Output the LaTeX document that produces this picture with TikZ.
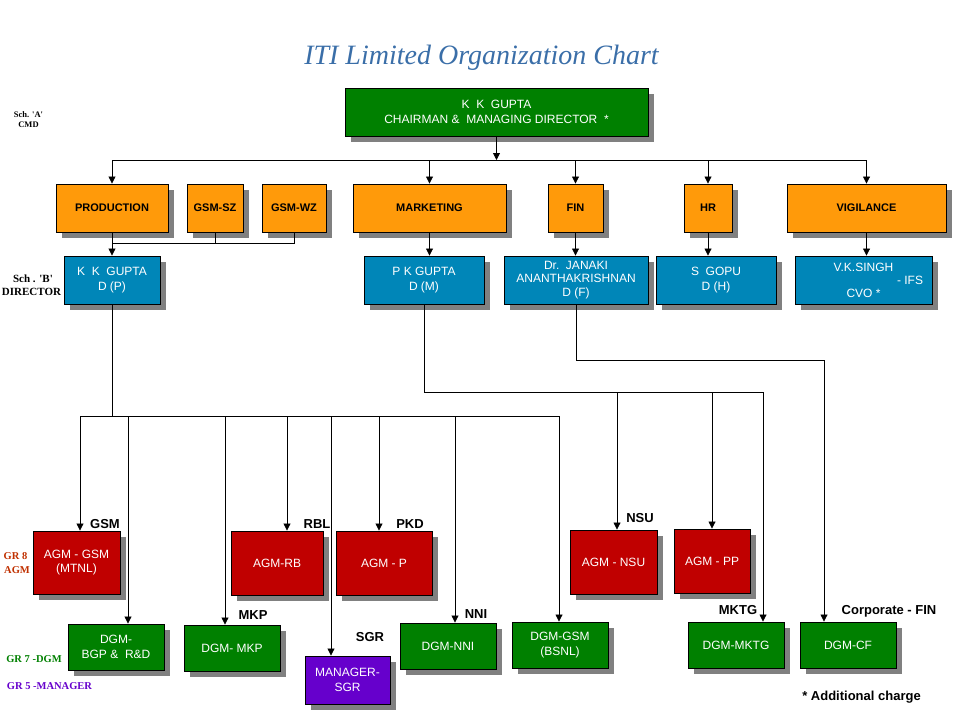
\documentclass[tikz,border=0pt]{standalone}
\usepackage{fontspec}
\setmainfont{Liberation Sans}
\newfontfamily\titlefont{Liberation Serif}
\usetikzlibrary{arrows.meta,shadows}

\definecolor{boxgreen}{HTML}{008000}
\definecolor{boxorange}{HTML}{FF9A0A}
\definecolor{boxblue}{HTML}{0086B8}
\definecolor{boxred}{HTML}{C00000}
\definecolor{boxpurple}{HTML}{6600CC}
\definecolor{titleblue}{HTML}{3A6EA8}
\definecolor{gradered}{HTML}{C03000}

\begin{document}
\begin{tikzpicture}[x=1pt, y=-1pt,
  box/.style = {draw, line width=0.9pt, inner sep=0pt, align=center, text=white, font=\fontsize{12}{14.5}\selectfont, drop shadow={shadow xshift=6pt, shadow yshift=-6pt, fill=gray, opacity=1}},
  grn/.style = {box, fill=boxgreen},
  dept/.style = {box, fill=boxorange, text=black, font=\bfseries\fontsize{11}{13}\selectfont},
  dir/.style = {box, fill=boxblue},
  agm/.style = {box, fill=boxred},
  mgr/.style = {box, fill=boxpurple},
  sz/.style 2 args = {minimum width=#1pt, minimum height=#2pt},
  arr/.style = {line width=0.8pt, -{Triangle[width=7pt,length=7pt]}},
  tag/.style = {anchor=base, font=\bfseries\fontsize{13}{15}\selectfont},
  grade/.style = {anchor=base, font=\titlefont\bfseries\fontsize{10.5}{12}\selectfont}]

\useasboundingbox (0,0) rectangle (960,720);

% Title
\node[anchor=base, text=titleblue, font=\titlefont\itshape\fontsize{28}{30}\selectfont] (title) at (481.5,64) {ITI Limited Organization Chart};

% Top
\node[grn, sz={303}{48}] (cmd) at (496.5,112) {K\ \ K\ \ GUPTA\\CHAIRMAN \&\ \ MANAGING DIRECTOR\ \ *};

% Departments
\node[dept, sz={112}{48}] (prod)  at (112,208)   {PRODUCTION};
\node[dept, sz={56}{48}]  (gsmsz) at (215,208)   {GSM-SZ};
\node[dept, sz={64}{48}]  (gsmwz) at (294,208)   {GSM-WZ};
\node[dept, sz={153}{48}] (mkt)   at (429.5,208) {MARKETING};
\node[dept, sz={55}{48}]  (fin)   at (575.5,208) {FIN};
\node[dept, sz={48}{48}]  (hr)    at (708,208)   {HR};
\node[dept, sz={159}{48}] (vig)   at (866.5,208) {VIGILANCE};

% Directors
\node[dir, sz={96}{48}]  (dp) at (112,280)   {K\ \ K\ \ GUPTA\\D (P)};
\node[dir, sz={120}{48}] (dm) at (424,280)   {P K GUPTA\\D (M)};
\node[dir, sz={144}{48}, font=\fontsize{12}{13.8}\selectfont] (df) at (576,280) {Dr.\ \ JANAKI\\ANANTHAKRISHNAN\\D (F)};
\node[dir, sz={120}{48}] (dh) at (716,280)   {S\ \ GOPU\\D (H)};
\node[dir, sz={137}{48}, font=\fontsize{12}{13}\selectfont] (cvo) at (863.5,280) {V.K.SINGH\\\hspace*{93pt}- IFS\\CVO *};

% Lower boxes
\node[agm, sz={87}{63}] (agmgsm)  at (76.5,562.5) {AGM - GSM\\(MTNL)};
\node[grn, sz={96}{46}] (dgmbgp)  at (116,647)    {DGM-\\BGP \&\ \ R\&D};
\node[grn, sz={96}{46}] (dgmmkp)  at (232,648)    {DGM- MKP};
\node[agm, sz={92}{64}] (agmrb)   at (277,563)    {AGM-RB};
\node[mgr, sz={85}{48}] (mgrsgr)  at (347.5,680)  {MANAGER-\\SGR};
\node[agm, sz={96}{64}] (agmp)    at (384,563)    {AGM - P};
\node[grn, sz={96}{46}] (dgmnni)  at (448,646)    {DGM-NNI};
\node[grn, sz={96}{46}] (dgmgsm)  at (560,645)    {DGM-GSM\\(BSNL)};
\node[agm, sz={87}{64}] (agmnsu)  at (613.5,562)  {AGM - NSU};
\node[agm, sz={76}{64}] (agmpp)   at (712,561)    {AGM - PP};
\node[grn, sz={96}{46}] (dgmmktg) at (736,645)    {DGM-MKTG};
\node[grn, sz={96}{46}] (dgmcf)   at (848,645)    {DGM-CF};

% Connectors from the top
\coordinate (tbus) at (496.5,160);
\draw[arr] (cmd.south) -- (tbus);
\draw[line width=0.8pt] (prod.north |- tbus) -- (vig.north |- tbus);
\foreach \n in {prod,mkt,fin,hr,vig}
  \draw[arr] (\n.north |- tbus) -- (\n.north);

% Production group
\coordinate (pbus) at (112,243);
\draw[line width=0.8pt] (gsmwz.south) |- (pbus);
\draw[line width=0.8pt] (gsmsz.south) -- (gsmsz.south |- pbus);
\foreach \a/\b in {prod/dp,mkt/dm,fin/df,hr/dh,vig/cvo}
  \draw[arr] (\a.south) -- (\a.south |- \b.north);

% Under D(P)
\foreach \x/\n in {80/agmgsm,128/dgmbgp,225/dgmmkp,287/agmrb,331/mgrsgr,379/agmp,455/dgmnni,559/dgmgsm} {
  \coordinate (p-\n) at (\x,416);
  \draw[arr] (p-\n) -- (p-\n |- \n.north);
}
\draw[line width=0.8pt] (p-agmgsm) -- (p-dgmgsm);
\draw[line width=0.8pt] (dp.south) -- (dp.south |- p-agmgsm);

% Under D(M)
\foreach \x/\n in {617/agmnsu,712/agmpp,763/dgmmktg} {
  \coordinate (m-\n) at (\x,392);
  \draw[arr] (m-\n) -- (m-\n |- \n.north);
}
\draw[line width=0.8pt] (dm.south) |- (m-dgmmktg);

% Under D(F)
\coordinate (fcorner) at (824,360);
\draw[arr] (df.south) |- (fcorner) -- (fcorner |- dgmcf.north);

% Unit labels
\node[tag] (tgsm)  at (105,528) {GSM};
\node[tag] (trbl)  at (317,528) {RBL};
\node[tag] (tpkd)  at (410,528) {PKD};
\node[tag] (tmkp)  at (253,619) {MKP};
\node[tag] (tsgr)  at (370,641.5) {SGR};
\node[tag] (tnni)  at (476,618) {NNI};
\node[tag] (tnsu)  at (640,522) {NSU};
\node[tag] (tmktg) at (738,614.5) {MKTG};
\node[tag] (tcf)   at (889,614.5) {Corporate - FIN};
\node[tag] (note)  at (861.5,700) {* Additional charge};

% Grades
\node[grade, font=\titlefont\bfseries\fontsize{8.5}{10}\selectfont] (scha) at (28.5,117) {Sch. 'A'};
\node[grade, font=\titlefont\bfseries\fontsize{8.5}{10}\selectfont] (schal) at (28.5,127) {CMD};
\node[grade, font=\titlefont\bfseries\fontsize{11}{12}\selectfont] (schb) at (33,282.5) {Sch . 'B'};
\node[grade, font=\titlefont\bfseries\fontsize{11}{12}\selectfont] (schbl) at (31.5,295) {DIRECTOR};
\node[grade, text=gradered] (gr8)  at (15.5,559) {GR 8};
\node[grade, text=gradered] (gr8l) at (17,573) {AGM};
\node[grade, text=boxgreen] (gr7)  at (34,662.5) {GR 7 -DGM};
\node[grade, text=boxpurple] (gr5) at (49.5,689) {GR 5 -MANAGER};

\end{tikzpicture}
\end{document}
